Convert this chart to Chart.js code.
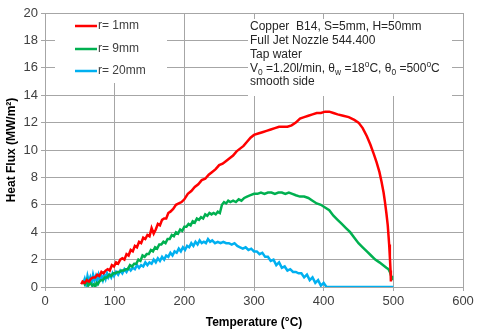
<!DOCTYPE html>
<html>
<head>
<meta charset="utf-8">
<script src="https://cdn.jsdelivr.net/npm/chart.js@4/dist/chart.umd.min.js"></script>
<style>
  html, body { margin: 0; padding: 0; background: #fff; }
  #wrap { width: 480px; height: 334px; }
</style>
</head>
<body>
<div id="wrap"><canvas id="myChart" width="480" height="334"></canvas></div>
<script>
// data: temperature (C) and heat flux (MW/m2)
const tempR = [52, 54, 57, 60, 63, 66, 69, 72, 75, 78, 81, 84, 87, 90, 93, 96, 99, 102, 105, 108, 111, 114, 117, 120, 123, 126, 129, 132, 135, 138, 141, 144, 147, 150, 153, 156, 159, 162, 165, 168, 171, 174, 177, 180, 184, 188, 192, 196, 200, 205, 210, 215, 220, 225, 230, 235, 240, 245, 250, 255, 260, 265, 270, 275, 280, 285, 290, 295, 300, 306, 312, 318, 324, 330, 336, 342, 348, 354, 360, 366, 372, 378, 384, 390, 396, 402, 408, 414, 420, 428, 436, 444, 450, 456, 462, 467, 472, 476, 480, 483, 486, 488, 490, 492, 493, 494, 495, 496, 496.5];
const fluxR = [0.2, 0.4, 0.3, 0.5, 0.4, 0.6, 0.7, 0.7, 0.9, 0.8, 1.1, 1.0, 1.2, 1.3, 1.2, 1.6, 1.5, 1.8, 1.7, 2.0, 2.1, 2.0, 2.4, 2.3, 2.7, 2.6, 3.0, 2.9, 3.3, 3.2, 3.6, 3.5, 3.8, 3.7, 4.3, 3.9, 4.2, 4.6, 4.5, 4.9, 5.0, 5.0, 5.4, 5.5, 5.7, 6.0, 6.1, 6.2, 6.4, 6.8, 7.0, 7.3, 7.5, 7.8, 7.9, 8.2, 8.4, 8.6, 8.9, 9.0, 9.2, 9.4, 9.6, 9.9, 10.1, 10.3, 10.6, 10.9, 11.1, 11.2, 11.3, 11.4, 11.5, 11.6, 11.7, 11.7, 11.7, 11.8, 12.0, 12.3, 12.4, 12.5, 12.6, 12.7, 12.7, 12.8, 12.8, 12.7, 12.6, 12.5, 12.4, 12.2, 12.0, 11.6, 11.0, 10.4, 9.7, 9.1, 8.4, 7.7, 6.9, 6.2, 5.4, 4.5, 3.8, 3.1, 2.2, 1.2, 0.4];

const tempG = [55, 57, 60, 62, 65, 68, 70, 72, 74, 76, 78, 80, 83, 86, 89, 92, 95, 98, 101, 104, 107, 110, 113, 116, 119, 122, 125, 128, 131, 134, 137, 140, 143, 146, 149, 152, 155, 158, 161, 164, 167, 170, 173, 176, 179, 182, 185, 188, 191, 194, 197, 200, 203, 206, 209, 212, 215, 218, 221, 224, 227, 230, 233, 236, 239, 242, 245, 248, 251, 254, 257, 260, 263, 266, 270, 274, 278, 282, 286, 290, 295, 300, 305, 310, 315, 320, 325, 330, 335, 340, 345, 350, 355, 360, 366, 372, 378, 384, 390, 396, 402, 408, 414, 420, 426, 432, 438, 444, 450, 456, 462, 468, 474, 480, 485, 490, 493, 495, 497, 498];
const fluxG = [0.4, 0.2, 0.5, 0.1, 0.3, 0.1, 0.2, 0.0, 0.3, 0.2, 0.4, 0.5, 0.5, 0.7, 0.7, 0.9, 0.8, 1.0, 1.0, 1.1, 1.1, 1.2, 1.2, 1.3, 1.3, 1.6, 1.5, 1.7, 1.7, 2.0, 1.9, 2.3, 2.2, 2.4, 2.4, 2.7, 2.6, 2.9, 2.8, 3.1, 3.1, 3.3, 3.2, 3.5, 3.5, 3.8, 3.7, 4.0, 3.9, 4.2, 4.1, 4.4, 4.4, 4.6, 4.5, 4.8, 4.7, 5.0, 4.9, 5.1, 5.0, 5.3, 5.2, 5.4, 5.3, 5.4, 5.3, 5.5, 5.4, 6.0, 6.2, 6.1, 6.3, 6.2, 6.3, 6.2, 6.4, 6.3, 6.5, 6.6, 6.7, 6.8, 6.8, 6.9, 6.8, 6.9, 6.9, 6.8, 6.9, 6.9, 6.8, 6.9, 6.8, 6.7, 6.6, 6.6, 6.5, 6.3, 6.1, 6.0, 5.8, 5.6, 5.2, 4.9, 4.6, 4.3, 4.0, 3.6, 3.2, 2.9, 2.6, 2.3, 2.0, 1.8, 1.6, 1.4, 1.3, 1.1, 0.8, 0.5];

const tempB = [55, 57, 59, 61, 63, 65, 67, 69, 71, 73, 75, 77, 79, 81, 83, 85, 87, 89, 91, 93, 95, 97, 99, 102, 105, 108, 111, 114, 117, 120, 123, 126, 129, 132, 135, 138, 141, 144, 147, 150, 153, 156, 159, 162, 165, 168, 171, 174, 177, 180, 183, 186, 189, 192, 195, 198, 201, 204, 207, 210, 213, 216, 219, 222, 225, 228, 231, 234, 237, 240, 244, 248, 252, 256, 260, 264, 268, 272, 276, 280, 284, 288, 292, 296, 300, 304, 308, 312, 316, 320, 324, 328, 332, 336, 340, 344, 348, 352, 356, 360, 364, 368, 372, 376, 380, 384, 388, 392, 396, 400, 404, 410, 500];
const fluxB = [0.3, 0.6, 0.2, 0.8, 0.4, 0.7, 0.3, 0.9, 0.5, 0.8, 0.4, 0.9, 0.6, 0.8, 0.5, 0.9, 0.6, 1.0, 0.7, 0.9, 0.7, 1.0, 0.8, 1.1, 0.9, 1.2, 1.0, 1.3, 1.1, 1.4, 1.2, 1.4, 1.3, 1.6, 1.4, 1.6, 1.5, 1.8, 1.6, 1.8, 1.7, 2.0, 1.8, 2.1, 1.9, 2.2, 2.0, 2.3, 2.2, 2.5, 2.3, 2.6, 2.5, 2.8, 2.6, 2.9, 2.7, 3.0, 2.9, 3.2, 3.0, 3.3, 3.1, 3.4, 3.2, 3.3, 3.2, 3.5, 3.3, 3.4, 3.2, 3.3, 3.2, 3.3, 3.2, 3.2, 3.1, 3.2, 3.0, 2.9, 2.8, 2.9, 2.7, 2.8, 2.6, 2.6, 2.4, 2.5, 2.2, 2.2, 1.9, 2.0, 1.6, 1.8, 1.4, 1.5, 1.2, 1.3, 1.1, 1.1, 1.0, 1.0, 0.7, 0.9, 0.5, 0.7, 0.3, 0.5, 0.1, 0.3, 0.0, 0.0, 0.0];

const seriesLabels = ["r= 1mm", "r= 9mm", "r= 20mm"];
const seriesColors = ["#ff0000", "#00b050", "#00b0f0"];
const xTicks = [0, 100, 200, 300, 400, 500, 600];
const yTicks = [0, 2, 4, 6, 8, 10, 12, 14, 16, 18, 20];

function pts(xs, ys) {
  return xs.map((x, i) => ({ x: x, y: ys[i] }));
}

// text with sub/superscripts, drawn piece by piece
function richText(ctx, x, y, parts, size) {
  parts.forEach(p => {
    let s = size, dy = 0;
    if (p.sub) { s = size * 0.7; dy = size * 0.3; }
    if (p.sup) { s = size * 0.7; dy = -size * 0.35; }
    ctx.font = s + 'px "Liberation Sans", Arial, sans-serif';
    ctx.fillText(p.t, x, y + dy);
    x += ctx.measureText(p.t).width;
  });
}

const boxes = {
  id: 'boxes',
  beforeDatasetsDraw(chart) {
    const ctx = chart.ctx;
    ctx.save();
    ctx.fillStyle = '#fff';
    ctx.fillRect(55, 14, 112, 69);
    ctx.fillRect(248, 19, 204, 77);

    ctx.textBaseline = 'middle';
    ctx.textAlign = 'left';
    ctx.font = '12px "Liberation Sans", Arial, sans-serif';
    const ly = [26, 49, 71];
    seriesLabels.forEach((lab, i) => {
      ctx.strokeStyle = seriesColors[i];
      ctx.lineWidth = 2.5;
      ctx.beginPath();
      ctx.moveTo(75, ly[i]);
      ctx.lineTo(97, ly[i]);
      ctx.stroke();
      ctx.fillStyle = '#404040';
      ctx.fillText(lab, 98, ly[i]);
    });

    ctx.fillStyle = '#262626';
    const fs = 12;
    richText(ctx, 250, 27, [{ t: 'Copper  B14, S=5mm, H=50mm' }], fs);
    richText(ctx, 250, 41, [{ t: 'Full Jet Nozzle 544.400' }], fs);
    richText(ctx, 250, 55, [{ t: 'Tap water' }], fs);
    richText(ctx, 250, 69, [
      { t: 'V' }, { t: '0', sub: true }, { t: ' =1.20l/min, θ' }, { t: 'w', sub: true },
      { t: ' =18' }, { t: 'o', sup: true }, { t: 'C, θ' }, { t: '0', sub: true },
      { t: ' =500' }, { t: 'o', sup: true }, { t: 'C' }
    ], fs);
    richText(ctx, 250, 82, [{ t: 'smooth side' }], fs);
    ctx.restore();
  }
};

const data = {
  datasets: [
    { label: seriesLabels[0], data: pts(tempR, fluxR), borderColor: seriesColors[0] },
    { label: seriesLabels[1], data: pts(tempG, fluxG), borderColor: seriesColors[1] },
    { label: seriesLabels[2], data: pts(tempB, fluxB), borderColor: seriesColors[2] }
  ].map(d => Object.assign(d, { showLine: true, pointRadius: 0, borderWidth: 2.5, tension: 0, fill: false }))
};
// draw red on top like the reference
data.datasets[0].order = 0;
data.datasets[1].order = 1;
data.datasets[2].order = 2;

const gridColor = '#a6a6a6';
const tickFont = { family: '"Liberation Sans", Arial, sans-serif', size: 13 };

const config = {
  type: 'scatter',
  data: data,
  options: {
    responsive: false,
    animation: false,
    layout: { padding: { left: 0, top: 13, right: 17, bottom: 0 } },
    plugins: { legend: { display: false }, tooltip: { enabled: false } },
    scales: {
      x: {
        min: 0, max: 600,
        afterBuildTicks: s => { s.ticks = xTicks.map(v => ({ value: v })); },
        afterFit: s => { s.height = 47; },
        grid: { color: gridColor, tickLength: 4 },
        border: { color: gridColor },
        ticks: { color: '#404040', font: tickFont, padding: 3, maxRotation: 0 },
        title: { display: true, text: 'Temperature (°C)', color: '#000',
                 font: { family: '"Liberation Sans", Arial, sans-serif', size: 12, weight: 'bold' },
                 padding: { top: 0, bottom: 4 } }
      },
      y: {
        min: 0, max: 20,
        afterBuildTicks: s => { s.ticks = yTicks.map(v => ({ value: v })); },
        afterFit: s => { s.width = 45; },
        grid: { color: gridColor, tickLength: 4 },
        border: { color: gridColor },
        ticks: { color: '#404040', font: tickFont, padding: 3 },
        title: { display: true, text: 'Heat Flux (MW/m²)', color: '#000',
                 font: { family: '"Liberation Sans", Arial, sans-serif', size: 12, weight: 'bold' },
                 padding: { top: 4, bottom: 0 } }
      }
    }
  },
  plugins: [boxes]
};

var myChart = new Chart(document.getElementById('myChart'), config);
</script>
</body>
</html>
